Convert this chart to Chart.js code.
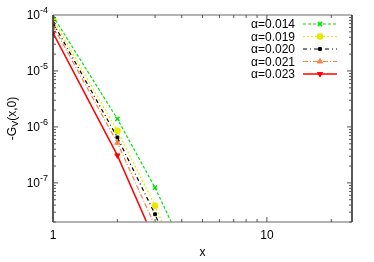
<!doctype html>
<html>
<head>
<script src="https://cdn.jsdelivr.net/npm/chart.js@4.4.1/dist/chart.umd.min.js"></script>
<style>
  body { margin: 0; background: #fff; }
  #wrap { position: absolute; left: 0; top: 0; width: 374px; height: 262px; }
</style>
</head>
<body>
<div id="wrap"><canvas id="myChart"></canvas></div>
<script>
// data
var xs = [1, 2, 3, 4];
var labels = ['\u03b1=0.014', '\u03b1=0.019', '\u03b1=0.020', '\u03b1=0.021', '\u03b1=0.023'];
var g014 = [9.6e-5, 1.39e-6, 8.2e-8, 8e-9];
var g019 = [8.4e-5, 8.5e-7, 3.9e-8, 3e-9];
var g020 = [7.3e-5, 6.5e-7, 2.75e-8, 2e-9];
var g021 = [6.4e-5, 5.2e-7, 1.7e-8, 1e-9];
var g023 = [4.8e-5, 3.1e-7, 9e-9, 4e-10];
var yTicks = [1e-4, 1e-5, 1e-6, 1e-7];
var xTicks = [1, 10];

var colors = ['#00e000', '#e8e800', '#000000', '#ff8040', '#ff0000'];
var dashes = [[3, 2], [2, 2], [4, 3, 1, 3], [5, 2, 1, 2], []];
var styles = ['crossRot', 'circle', 'rect', 'triangle', 'triangle'];
var rots = [0, 0, 0, 0, 180];
var radii = [3, 3, 2, 3, 3];
var series = [g014, g019, g020, g021, g023];

var datasets = series.map(function (s, i) {
  return {
    label: labels[i],
    data: xs.map(function (x, j) { return { x: x, y: s[j] }; }),
    borderColor: colors[i],
    backgroundColor: colors[i],
    borderWidth: i == 4 ? 1.5 : 1.2,
    borderDash: dashes[i],
    pointStyle: styles[i],
    pointRotation: rots[i],
    pointRadius: radii[i],
    pointBorderWidth: i == 0 ? 1.5 : 1,
    tension: 0
  };
});

function sup(ctx, base, exp, x, y, alignRight) {
  ctx.font = '12px "Liberation Sans", Arial, sans-serif';
  var wb = ctx.measureText(base).width;
  ctx.font = '9px "Liberation Sans", Arial, sans-serif';
  var we = ctx.measureText(exp).width;
  var x0 = alignRight ? x - wb - we : x - (wb + we) / 2;
  ctx.textAlign = 'left';
  ctx.textBaseline = 'middle';
  ctx.font = '12px "Liberation Sans", Arial, sans-serif';
  ctx.fillText(base, x0, y + 1);
  ctx.font = '9px "Liberation Sans", Arial, sans-serif';
  ctx.fillText(exp, x0 + wb, y - 4);
}

var frame = {
  id: 'frame',
  afterDatasetsDraw: function (chart) {
    var ctx = chart.ctx, a = chart.chartArea;
    var sx = chart.scales.x, sy = chart.scales.y;
    ctx.save();
    // borders
    ctx.lineWidth = 1.5;
    ctx.strokeStyle = '#999';
    ctx.beginPath();
    ctx.moveTo(a.left, a.top); ctx.lineTo(a.right, a.top);
    ctx.moveTo(a.left, a.bottom); ctx.lineTo(a.right, a.bottom);
    ctx.stroke();
    ctx.strokeStyle = '#222';
    ctx.beginPath();
    ctx.moveTo(a.left, a.top); ctx.lineTo(a.left, a.bottom);
    ctx.moveTo(a.right, a.top); ctx.lineTo(a.right, a.bottom);
    ctx.stroke();
    // ticks
    ctx.lineWidth = 1;
    ctx.strokeStyle = '#555';
    ctx.beginPath();
    for (var d = 1; d <= 10; d *= 10) {
      for (var m = 1; m <= 9; m++) {
        var v = d * m;
        if (v < sx.min || v > sx.max) continue;
        var px = sx.getPixelForValue(v), len = (m == 1) ? 5 : 3;
        ctx.moveTo(px, a.bottom); ctx.lineTo(px, a.bottom - len);
        ctx.moveTo(px, a.top); ctx.lineTo(px, a.top + len);
      }
    }
    for (var e = -8; e <= -5; e++) {
      for (var m = 1; m <= 9; m++) {
        var v = m * Math.pow(10, e);
        if (v < sy.min * 0.999 || v > sy.max * 1.001) continue;
        var py = sy.getPixelForValue(v), len = (m == 1) ? 5 : 3;
        ctx.moveTo(a.left, py); ctx.lineTo(a.left + len, py);
        ctx.moveTo(a.right, py); ctx.lineTo(a.right - len, py);
      }
    }
    ctx.stroke();
    // tick labels
    ctx.fillStyle = '#000';
    yTicks.forEach(function (t) {
      var py = sy.getPixelForValue(t);
      sup(ctx, '10', String(Math.round(Math.log10(t))), a.left - 5, py, true);
    });
    ctx.font = '12px "Liberation Sans", Arial, sans-serif';
    ctx.textAlign = 'center';
    ctx.textBaseline = 'middle';
    xTicks.forEach(function (t) {
      ctx.fillText(String(t), sx.getPixelForValue(t), a.bottom + 14);
    });
    // axis titles
    ctx.fillText('x', (a.left + a.right) / 2, a.bottom + 31);
    ctx.save();
    ctx.translate(13, (a.top + a.bottom) / 2);
    ctx.rotate(-Math.PI / 2);
    ctx.font = '12px "Liberation Sans", Arial, sans-serif';
    var w1 = ctx.measureText('-G').width;
    ctx.font = '9px "Liberation Sans", Arial, sans-serif';
    var w2 = ctx.measureText('V').width;
    ctx.font = '12px "Liberation Sans", Arial, sans-serif';
    var w3 = ctx.measureText('(x,0)').width;
    var x0 = -(w1 + w2 + w3) / 2;
    ctx.textAlign = 'left';
    ctx.fillText('-G', x0, 0);
    ctx.font = '9px "Liberation Sans", Arial, sans-serif';
    ctx.fillText('V', x0 + w1, 3);
    ctx.font = '12px "Liberation Sans", Arial, sans-serif';
    ctx.fillText('(x,0)', x0 + w1 + w2, 0);
    ctx.restore();
    // legend
    var ly = 24;
    chart.data.datasets.forEach(function (ds, i) {
      var y = ly + i * 12.5;
      ctx.font = '12px "Liberation Sans", Arial, sans-serif';
      ctx.textAlign = 'right';
      ctx.textBaseline = 'middle';
      ctx.fillStyle = '#000';
      ctx.fillText(ds.label, 295, y + 1);
      ctx.strokeStyle = ds.borderColor;
      ctx.fillStyle = ds.backgroundColor;
      ctx.lineWidth = ds.borderWidth;
      ctx.setLineDash(ds.borderDash);
      ctx.beginPath();
      ctx.moveTo(303, y); ctx.lineTo(337, y);
      ctx.stroke();
      ctx.setLineDash([]);
      ctx.lineWidth = ds.pointBorderWidth;
      Chart.helpers.drawPoint(ctx, {
        pointStyle: ds.pointStyle, rotation: ds.pointRotation,
        radius: ds.pointRadius, borderWidth: ds.pointBorderWidth
      }, 320, y);
    });
    ctx.restore();
  }
};

var ctx = document.getElementById('myChart');
new Chart(ctx, {
  type: 'line',
  data: { datasets: datasets },
  options: {
    responsive: true,
    maintainAspectRatio: false,
    animation: false,
    layout: { padding: { left: 53, top: 15, right: 22, bottom: 40 } },
    plugins: { legend: { display: false }, tooltip: { enabled: false } },
    scales: {
      x: { type: 'logarithmic', min: 1, max: 25, display: false },
      y: { type: 'logarithmic', min: 2e-8, max: 1e-4, display: false }
    }
  },
  plugins: [frame]
});
</script>
</body>
</html>
